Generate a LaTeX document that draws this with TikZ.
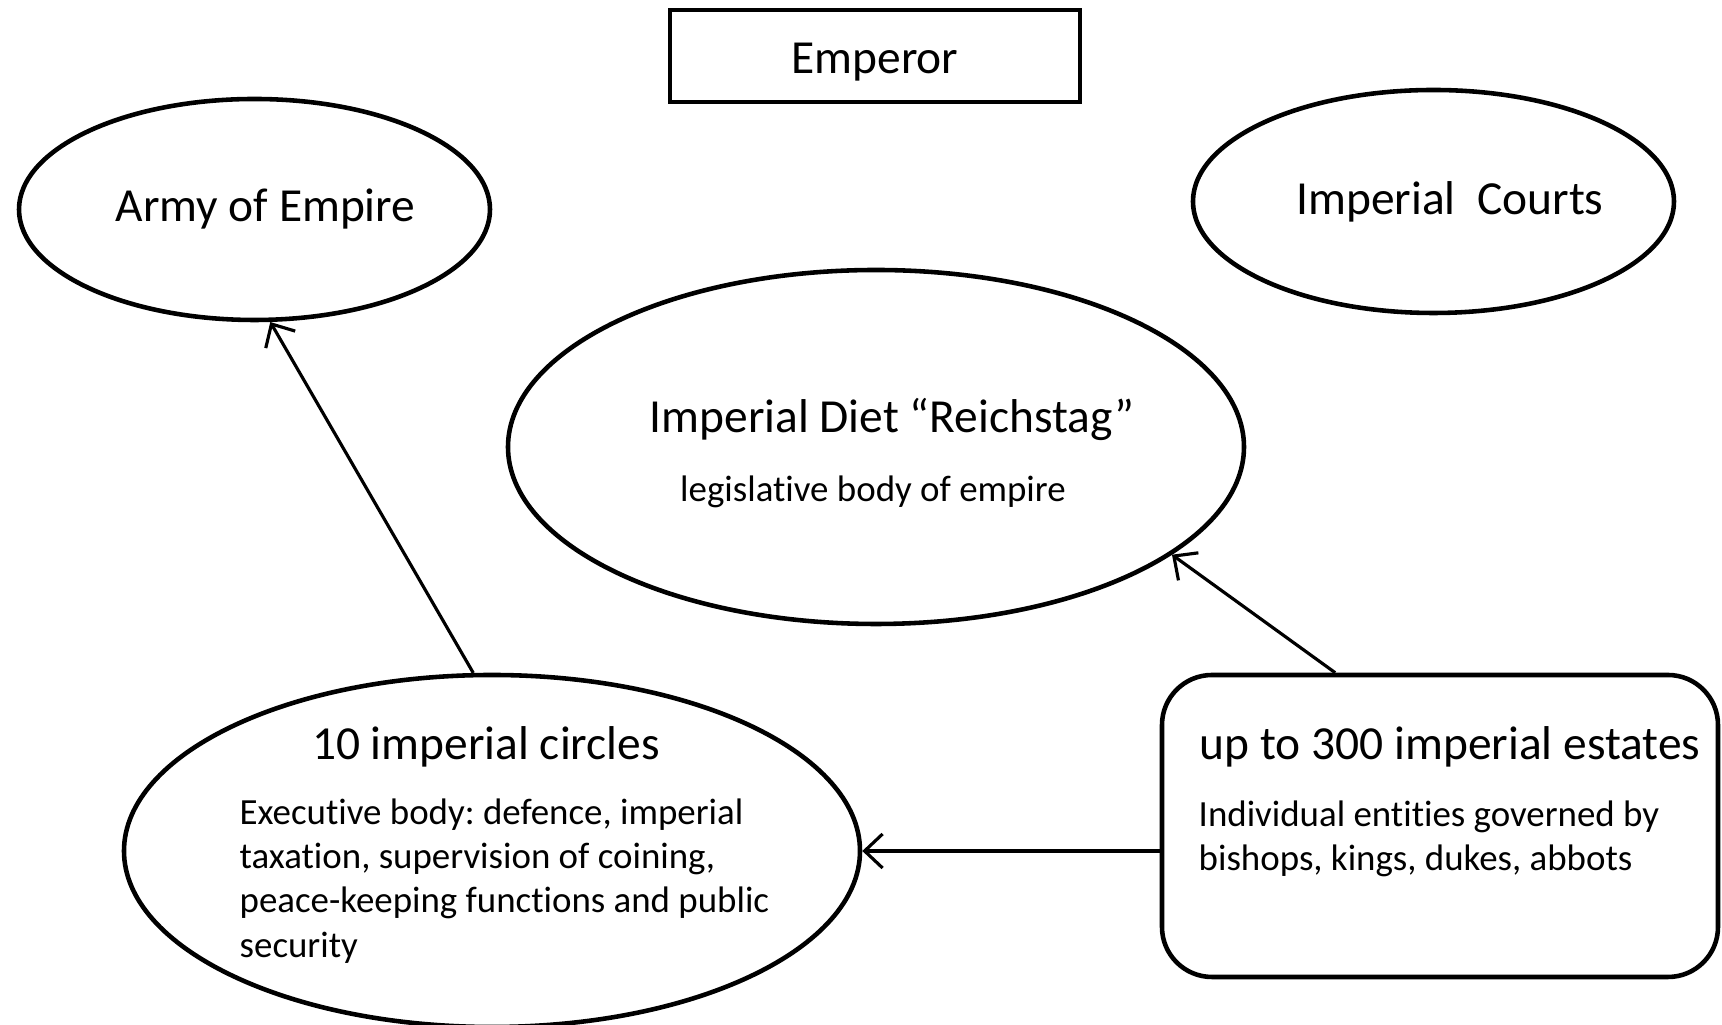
\documentclass[tikz,border=0pt]{standalone}
\usepackage{fontspec}
\setmainfont[RawFeature={-liga;-clig;-dlig;-calt}]{Carlito}
\frenchspacing
\usetikzlibrary{shapes,arrows.meta,positioning,calc}

\begin{document}
\begin{tikzpicture}[
    oval/.style={draw, ellipse, line width=1.3pt, inner sep=0pt},
    big/.style={font=\fontsize{13.5}{16}\selectfont},
    small/.style={font=\fontsize{10.5}{12.6}\selectfont},
    link/.style={-{Straight Barb[length=1.8mm,width=3.4mm]}, line width=0.9pt}
]
    \useasboundingbox (0,0) rectangle (17.22,10.25);

    % Emperor on top
    \node[draw, line width=1.3pt, minimum width=4.1cm, minimum height=0.92cm, text height=4.6mm, text depth=1mm, big] (emperor) at (8.75,9.69) {Emperor};

    % Upper ovals
    \node[oval, minimum width=4.71cm, minimum height=2.21cm, big] (army) at (2.545,8.155) {\hspace*{2.2mm}Army of Empire};
    \node[oval, minimum width=4.64cm, minimum height=2.23cm, big] (courts) at (14.335,8.235) {\hspace*{3.3mm}Imperial\ \ Courts};

    % Diet
    \node[oval, minimum width=7.36cm, minimum height=3.54cm] (diet) at (8.76,5.78) {};
    \node[big] (diet-title) at (8.92,6.06) {Imperial Diet “Reichstag”};
    \node[small] (diet-sub) at (8.73,5.33) {legislative body of empire};

    % Imperial circles
    \node[oval, minimum width=7.36cm, minimum height=3.52cm] (circles) at (4.92,1.74) {};
    \node[big] (circles-title) at (4.86,2.78) {10 imperial circles};
    \node[small, anchor=west, align=left, inner sep=0pt] (circles-text) at (2.39,1.44)
        {Executive body: defence, imperial\\taxation, supervision of coining,\\peace-keeping functions and public\\security};

    % Imperial estates
    \node[draw, rounded corners=0.5cm, line width=1.3pt, minimum width=5.56cm, minimum height=3.02cm] (estates) at (14.40,1.99) {};
    \node[big] (estates-title) at (14.50,2.78) {up to 300 imperial estates};
    \node[small, anchor=west, align=left, inner sep=0pt] (estates-text) at (11.98,1.86)
        {Individual entities governed by\\bishops, kings, dukes, abbots};

    % Connections
    \draw[link] (circles.96) -- (army.278);
    \draw[link] ($(estates.north west)!0.313!(estates.north east)$) -- (diet.340);
    \draw[link] (estates.west |- circles.east) -- (circles.east);
\end{tikzpicture}
\end{document}
